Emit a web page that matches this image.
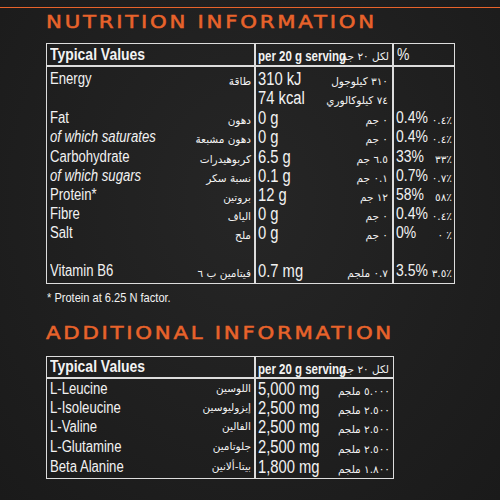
<!DOCTYPE html>
<html><head><meta charset="utf-8">
<script src="https://cdn.jsdelivr.net/npm/chart.js"></script>
<style>
body{margin:0;width:500px;height:500px;overflow:hidden;background:radial-gradient(ellipse at 50% 40%,#262626,#1a1a1a);font-family:"Liberation Sans",Arial,sans-serif;color:#f2f2f2;position:relative}
.t{position:absolute;white-space:nowrap;font-size:16px;line-height:18px;transform:scaleX(0.82);transform-origin:left}
.ar{font-family:"DejaVu Sans",sans-serif;font-size:10.5px;direction:rtl;text-align:right;transform:none}
.title{position:absolute;left:46px;color:#e8632b;font-family:"DejaVu Sans",sans-serif;font-size:17px;letter-spacing:2.2px;transform:scaleX(1.25);transform-origin:left;-webkit-text-stroke:0.5px #e8632b}
.box{position:absolute;border:1.5px solid #ddd;box-sizing:border-box}
.v{position:absolute;width:1.5px;background:#ddd}
.h{position:absolute;height:1.5px;background:#ddd}
</style></head><body>
<div class="h" style="left:0;top:7px;width:500px;background:#e8632b;height:1px"></div>
<div id="root"></div>
<script>
const nutrients = ['Energy','','Fat','of which saturates','Carbohydrate','of which sugars','Protein*','Fibre','Salt','','Vitamin B6'];
const nutrientsAr = ['طاقة','','دهون','دهون مشبعة','كربوهيدرات','نسبة سكر','بروتين','الياف','ملح','','فيتامين ب ٦'];
const italicRows = [3,5];
const perServing = ['310 kJ','74 kcal','0 g','0 g','6.5 g','0.1 g','12 g','0 g','0 g','','0.7 mg'];
const perServingAr = ['٣١٠ كيلوجول','٧٤ كيلوكالوري','٠ جم','٠ جم','٦.٥ جم','٠.١ جم','١٢ جم','٠ جم','٠ جم','','٠.٧ ملجم'];
const percent = ['','','0.4%','0.4%','33%','0.7%','58%','0.4%','0%','','3.5%'];
const percentAr = ['','','٪٠.٤','٪٠.٤','٪٣٣','٪٠.٧','٪٥٨','٪٠.٤','٪ ٠','','٪٣.٥'];
const rowY = [70,89,109,128,148,167,186,205,224,243,262];

const aminos = ['L-Leucine','L-Isoleucine','L-Valine','L-Glutamine','Beta Alanine'];
const aminosAr = ['اللوسين','إيزوليوسين','الفالين','جلوتامين','بيتا-ألانين'];
const aminoMg = ['5,000 mg','2,500 mg','2,500 mg','2,500 mg','1,800 mg'];
const aminoMgAr = ['٥.٠٠٠ ملجم','٢.٥٠٠ ملجم','٢.٥٠٠ ملجم','٢.٥٠٠ ملجم','١.٨٠٠ ملجم'];
const aminoY = [380,399,418,438,458];

const root = document.getElementById('root');
const add = (html) => root.insertAdjacentHTML('beforeend', html);
const txt = (x,y,s,extra='') => add(`<div class="t" style="left:${x}px;top:${y}px;${extra}">${s}</div>`);
const ar = (right,y,s) => add(`<div class="t ar" style="right:${500-right}px;top:${y+2}px">${s}</div>`);

/* NUTRITION TABLE */
add(`<div class="title" style="top:12px">NUTRITION INFORMATION</div>`);
add(`<div class="box" style="left:46px;top:43px;width:409px;height:241px"></div>`);
add(`<div class="h" style="left:46px;top:65px;width:409px"></div>`);
add(`<div class="v" style="left:254px;top:43px;height:241px"></div>`);
add(`<div class="v" style="left:392px;top:43px;height:241px"></div>`);
txt(50,46,'<b>Typical Values</b>','font-size:17px');
txt(258,47,'<b>per 20 g serving</b>','font-size:14px');
ar(389,45,'لكل ٢٠ جم');
txt(397,46,'%','font-size:17px');
nutrients.forEach((n,i)=>{
  const y = rowY[i];
  if (n) txt(50,y,n,italicRows.includes(i)?'font-style:italic':'');
  if (nutrientsAr[i]) ar(251,y,nutrientsAr[i]);
  if (perServing[i]) txt(258,y,perServing[i],'font-size:18px');
  if (perServingAr[i]) ar(388,y,perServingAr[i]);
  if (percent[i]) txt(396,y,percent[i],'font-size:17px');
  if (percentAr[i]) ar(452,y,percentAr[i]);
});
txt(47,289,'* Protein at 6.25 N factor.','font-size:13.5px');

/* ADDITIONAL TABLE */
add(`<div class="title" style="top:323px">ADDITIONAL INFORMATION</div>`);
add(`<div class="box" style="left:46px;top:356px;width:348px;height:123px"></div>`);
add(`<div class="h" style="left:46px;top:377px;width:348px"></div>`);
add(`<div class="v" style="left:254px;top:356px;height:123px"></div>`);
txt(50,358,'<b>Typical Values</b>','font-size:17px');
txt(258,360,'<b>per 20 g serving</b>','font-size:14px');
ar(389,358,'لكل ٢٠ جم');
aminos.forEach((a,i)=>{
  const y = aminoY[i];
  txt(50,y,a);
  ar(251,y-3,aminosAr[i]);
  txt(258,y,aminoMg[i],'font-size:18px');
  ar(390,y,aminoMgAr[i]);
});
</script>
</body></html>
